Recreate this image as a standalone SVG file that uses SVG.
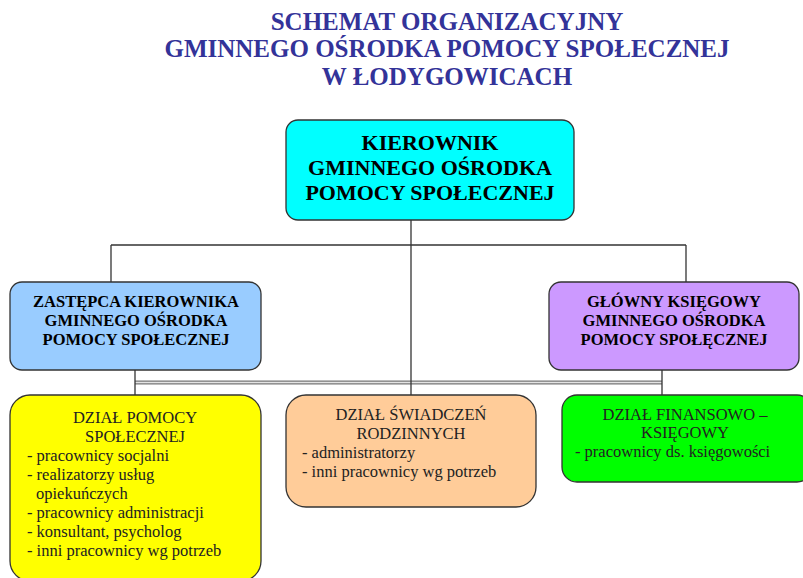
<svg xmlns="http://www.w3.org/2000/svg" width="803" height="578" viewBox="0 0 803 578">
<style>
.title{font-family:"Liberation Serif","Times New Roman",serif;font-weight:bold;font-size:25px;fill:#333399;text-anchor:middle}
.box{stroke:#333;stroke-width:1.3}
.hb{font-family:"Liberation Serif","Times New Roman",serif;font-weight:bold;fill:#000;text-anchor:middle}
.t{font-family:"Liberation Serif","Times New Roman",serif;font-size:16.5px;fill:#222}
.c{text-anchor:middle}
.ln{stroke:#333;stroke-width:1.3;fill:none}
</style>
<rect width="803" height="578" fill="#fff"/>
<g id="title">
<text class="title" x="447" y="30">SCHEMAT ORGANIZACYJNY</text>
<text class="title" x="447" y="57">GMINNEGO OŚRODKA POMOCY SPOŁECZNEJ</text>
<text class="title" x="447" y="85">W ŁODYGOWICACH</text>
</g>
<g id="connectors">
<line x1="135" y1="382.5" x2="662" y2="382.5" stroke="#777" stroke-width="4"/>
<line x1="135" y1="382.5" x2="662" y2="382.5" stroke="#e4e4e4" stroke-width="1.6"/>
<line class="ln" x1="411" y1="220" x2="411" y2="395"/>
<line class="ln" x1="111" y1="245" x2="686" y2="245"/>
<line class="ln" x1="111" y1="245" x2="111" y2="283"/>
<line class="ln" x1="686" y1="245" x2="686" y2="283"/>
<line class="ln" x1="135" y1="370" x2="135" y2="395"/>
<line class="ln" x1="662" y1="370" x2="662" y2="395"/>
</g>
<g id="kierownik">
<rect class="box" x="286" y="120" width="288" height="100" rx="12" fill="#00ffff"/>
<text class="hb" font-size="22" x="430" y="150">KIEROWNIK</text>
<text class="hb" font-size="22" x="430" y="175">GMINNEGO OŚRODKA</text>
<text class="hb" font-size="22" x="430" y="200">POMOCY SPOŁECZNEJ</text>
</g>
<g id="zastepca">
<rect class="box" x="10" y="282" width="251" height="88" rx="12" fill="#99ccff"/>
<text class="hb" font-size="16.5" x="136" y="307">ZASTĘPCA KIEROWNIKA</text>
<text class="hb" font-size="16.5" x="136" y="326">GMINNEGO OŚRODKA</text>
<text class="hb" font-size="16.5" x="136" y="345">POMOCY SPOŁECZNEJ</text>
</g>
<g id="glowny-ksiegowy">
<rect class="box" x="549" y="282" width="250" height="88" rx="12" fill="#cc99ff"/>
<text class="hb" font-size="16.5" x="674" y="307">GŁÓWNY KSIĘGOWY</text>
<text class="hb" font-size="16.5" x="674" y="326">GMINNEGO OŚRODKA</text>
<text class="hb" font-size="16.5" x="674" y="345">POMOCY SPOŁĘCZNEJ</text>
</g>
<g id="dzial-pomocy">
<rect class="box" x="10" y="395" width="251" height="186" rx="20" fill="#ffff00"/>
<text class="t c" x="135" y="423">DZIAŁ POMOCY</text>
<text class="t c" x="135" y="442">SPOŁECZNEJ</text>
<text class="t" x="27" y="461">- pracownicy socjalni</text>
<text class="t" x="27" y="480">- realizatorzy usług</text>
<text class="t" x="36" y="499">opiekuńczych</text>
<text class="t" x="27" y="518">- pracownicy administracji</text>
<text class="t" x="27" y="537">- konsultant, psycholog</text>
<text class="t" x="27" y="556">- inni pracownicy wg potrzeb</text>
</g>
<g id="dzial-swiadczen">
<rect class="box" x="286" y="395" width="250" height="112" rx="20" fill="#ffcc99"/>
<text class="t c" x="411" y="420">DZIAŁ ŚWIADCZEŃ</text>
<text class="t c" x="411" y="439">RODZINNYCH</text>
<text class="t" x="302" y="458">- administratorzy</text>
<text class="t" x="302" y="477">- inni pracownicy wg potrzeb</text>
</g>
<g id="dzial-finansowo">
<rect class="box" x="562" y="395" width="250" height="87" rx="15" fill="#00ff00"/>
<text class="t c" x="685" y="420">DZIAŁ FINANSOWO –</text>
<text class="t c" x="685" y="438">KSIĘGOWY</text>
<text class="t" x="575" y="457">- pracownicy ds. księgowości</text>
</g>
</svg>
